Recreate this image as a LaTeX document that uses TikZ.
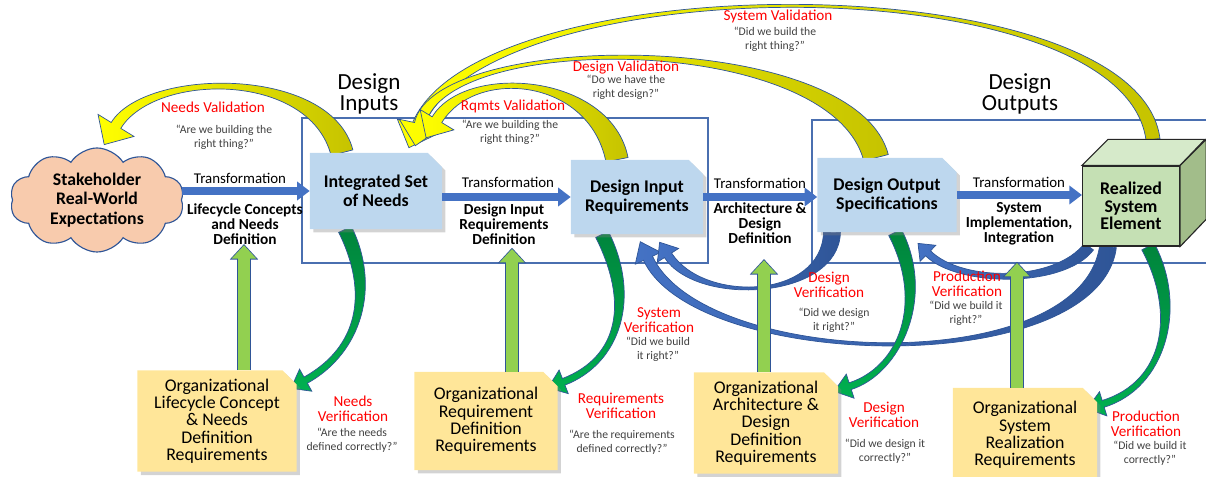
\documentclass[tikz,border=0pt]{standalone}
\usepackage{fontspec}
\setmainfont{Carlito}
\usetikzlibrary{calc,arrows.meta,shapes.misc,shapes.symbols,shadows}
\definecolor{peach}{HTML}{F8CBAD}
\definecolor{edgeblue}{HTML}{2F5597}
\definecolor{needblue}{HTML}{BDD7EE}
\definecolor{orgyellow}{HTML}{FFE699}
\definecolor{cubefront}{HTML}{C5E0B4}
\definecolor{cubetop}{HTML}{D6EACA}
\definecolor{cubeside}{HTML}{A2BD8A}
\definecolor{flowblue}{HTML}{4472C4}
\definecolor{deepblue}{HTML}{2F5597}
\definecolor{drivegreen}{HTML}{92D050}
\definecolor{verigreen}{HTML}{00B050}
\definecolor{darkgreen}{HTML}{00843C}
\definecolor{valyellow}{HTML}{FFFF00}
\definecolor{olive}{HTML}{C6C300}
\definecolor{quotegray}{HTML}{404040}
\definecolor{frameblue}{HTML}{4A6FB0}
\pgfdeclarelayer{back}
\pgfsetlayers{back,main}
\newcommand{\bendarrow}[9][]{%
\path[#1] ($(#2)!#6!90:(#3)$) .. controls ($(#3)!#6!-90:(#2)$) and ($(#4)!#7!90:(#5)$) .. ($(#5)!#7!-90:(#4)$)
 -- ($(#5)!#8!-90:(#4)$) -- ($(#5)!#9!180:(#4)$) -- ($(#5)!#8!90:(#4)$) -- ($(#5)!#7!90:(#4)$)
 .. controls ($(#4)!#7!-90:(#5)$) and ($(#3)!#6!90:(#2)$) .. ($(#2)!#6!-90:(#3)$) -- cycle;}
\tikzset{
  docbox/.style={chamfered rectangle, chamfered rectangle corners=north east, chamfered rectangle xsep=5pt,
    chamfered rectangle ysep=5pt, draw=none, drop shadow={opacity=0.35}, align=center, inner sep=1pt},
  needbox/.style={docbox, fill=needblue, font=\fontsize{12.7}{13.5}\selectfont\bfseries},
  orgbox/.style={docbox, fill=orgyellow, font=\fontsize{12.7}{12.3}\selectfont},
  cloudnode/.style={cloud, cloud puffs=10, cloud puff arc=115, aspect=1.7, fill=peach, draw=edgeblue,
    line width=0.8pt, inner sep=0pt, minimum width=4.35cm, minimum height=2.6cm, align=center,
    font=\fontsize{12.6}{14}\selectfont\bfseries},
  cubebox/.style={rectangle, fill=cubefront, draw=black!85, line width=0.8pt, minimum width=2.425cm,
    minimum height=2cm, align=center, font=\fontsize{12.7}{12.5}\selectfont\bfseries},
  headtext/.style={align=center, font=\fontsize{16.4}{15.4}\selectfont},
  transtext/.style={font=\fontsize{10.6}{11}\selectfont},
  deftext/.style={align=center, font=\fontsize{10.9}{10.5}\selectfont\bfseries},
  redtext/.style={align=center, inner sep=0pt, text=red, font=\fontsize{10.8}{11}\selectfont},
  quotetext/.style={align=center, inner sep=0pt, text=quotegray, font=\fontsize{8.3}{10}\selectfont},
  frame/.style={draw=frameblue, line width=0.8pt},
  trans/.style={line width=5.6pt, flowblue, -{Triangle[width=13pt,length=9pt]}},
  drivebase/.style={line width=9.4pt, edgeblue, -{Triangle[width=19.5pt,length=11pt]}},
  drivefill/.style={line width=8pt, drivegreen, shorten >=0.9pt, -{Triangle[width=17pt,length=9.5pt]}},
  drivetext/.style={rotate=-90, font=\fontsize{9.6}{10}\selectfont},
  yellowarrow/.style={left color=valyellow, middle color=valyellow, right color=olive, draw=edgeblue, line width=0.5pt},
  bluearrow/.style={left color=flowblue, right color=deepblue, draw=edgeblue, line width=0.5pt},
  greenarrow/.style={top color=darkgreen, bottom color=verigreen, draw=edgeblue, line width=0.5pt}
}
\begin{document}
\begin{tikzpicture}[x=0.025cm,y=-0.025cm]
\useasboundingbox (0,0) rectangle (1206,477);
\node[cloudnode] (stake) at (97,200) {Stakeholder\\Real-World\\Expectations};
\node[needbox, minimum width=3.3cm, minimum height=1.9cm] (ins) at (376,191) {Integrated Set\\of Needs};
\node[needbox, minimum width=3.3cm, minimum height=1.85cm] (dir) at (637,197) {Design Input\\Requirements};
\node[needbox, minimum width=3.475cm, minimum height=1.85cm] (dos) at (887,195) {Design Output\\Specifications};
\node[cubebox] (rse) at (1131,206) {Realized\\System\\Element};
\draw[fill=cubetop, draw=black!85, line width=0.8pt] (rse.north west) -- ++(26,-26) -- ++(97,0) -- (rse.north east) -- cycle;
\draw[fill=cubeside, draw=black!85, line width=0.8pt] (rse.north east) -- ++(26,-26) -- ++(0,80) -- (rse.south east) -- cycle;
\node[orgbox, minimum width=3.975cm, minimum height=2.45cm] (org1) at (217,421) {Organizational\\Lifecycle Concept\\\& Needs\\Definition\\Requirements};
\node[orgbox, minimum width=3.575cm, minimum height=2.45cm] (org2) at (486,421) {Organizational\\Requirement\\Definition\\Requirements};
\node[orgbox, minimum width=3.6cm, minimum height=2.425cm] (org3) at (766,423) {Organizational\\Architecture \&\\Design\\Definition\\Requirements};
\node[orgbox, minimum width=3.6cm, minimum height=2.35cm] (org4) at (1025,435) {Organizational\\System\\Realization\\Requirements};
\node[headtext] (dinp) at (369,94) {Design\\Inputs};
\node[headtext] (dout) at (1020,94) {Design\\Outputs};
\draw[trans] (stake.east |- ins.west) -- (ins.west);
\draw[trans] (ins.east |- dir.west) -- (dir.west);
\draw[trans] (dir.east) -- (dir.east -| dos.west);
\draw[trans] (dos.east) -- (dos.east -| rse.west);
\node[transtext] (tr1) at (240,178) {Transformation};
\node[transtext] (tr2) at (508,182) {Transformation};
\node[transtext] (tr3) at (760,183) {Transformation};
\node[transtext] (tr4) at (1019,182) {Transformation};
\node[deftext] (def1) at (245,224) {Lifecycle Concepts\\and Needs\\Definition};
\node[deftext] (def2) at (504,224) {Design Input\\Requirements\\Definition};
\node[deftext] (def3) at (760,223) {Architecture \&\\Design\\Definition};
\node[deftext] (def4) at (1019,224) {System\\Implementation,\\Integration};
\draw[drivebase] ($(org1.north)+(27,0)$) -- ++(0,-126);
\draw[drivefill] ($(org1.north)+(27,0)$) -- ++(0,-126) node[midway, drivetext] {Drive};
\draw[drivebase] ($(org2.north)+(26,0)$) -- ++(0,-124);
\draw[drivefill] ($(org2.north)+(26,0)$) -- ++(0,-124) node[midway, drivetext] {Drive};
\draw[drivebase] ($(org3.north)+(-2,0)$) -- ++(0,-113);
\draw[drivefill] ($(org3.north)+(-2,0)$) -- ++(0,-113) node[midway, drivetext] {Drive};
\draw[drivebase] ($(org4.north)+(-8,0)$) -- ++(0,-126);
\draw[drivefill] ($(org4.north)+(-8,0)$) -- ++(0,-126) node[pos=0.62, drivetext] {Drive};
\node[redtext] (nval) at (213,107) {Needs Validation};
\node[quotetext] (nvalq) at (224,137) {“Are we building the\\right thing?”};
\node[redtext] (rval) at (513,106) {Rqmts Validation};
\node[quotetext] (rvalq) at (510,132) {“Are we building the\\right thing?”};
\node[redtext] (dval) at (626,68) {Design Validation};
\node[quotetext] (dvalq) at (626,87) {“Do we have the\\right design?”};
\node[redtext] (sval) at (778,16) {System Validation};
\node[quotetext] (svalq) at (775,39) {“Did we build the\\right thing?”};
\node[redtext] (nver) at (353,409) {Needs\\Verification};
\node[quotetext] (nverq) at (352,440) {“Are the needs\\defined correctly?”};
\node[redtext] (rver) at (621,406) {Requirements\\Verification};
\node[quotetext] (rverq) at (622,442) {“Are the requirements\\defined correctly?”};
\node[redtext] (sver) at (659,320) {System\\Verification};
\node[quotetext] (sverq) at (658,349) {“Did we build\\it right?”};
\node[redtext] (dver) at (829,285) {Design\\Verification};
\node[quotetext] (dverq) at (834,320) {“Did we design\\it right?”};
\node[redtext] (pver) at (967,284) {Production\\Verification};
\node[quotetext] (pverq) at (966,313) {“Did we build it\\right?”};
\node[redtext] (dver2) at (884,415) {Design\\Verification};
\node[quotetext] (dverq2) at (885,451) {“Did we design it\\correctly?”};
\node[redtext] (pver2) at (1146,424) {Production\\Verification};
\node[quotetext] (pverq2) at (1150,453) {“Did we build it\\correctly?”};
\begin{pgfonlayer}{back}
\draw[frame] (302,118) rectangle (708,263);
\draw[frame] (812,120) rectangle (1230,263);
\coordinate (nvt) at ($(ins.north)+(-34,0)$);
\coordinate (nvh) at ($(stake.north)+(19,-22)$);
\coordinate (rvt) at ($(dir.north)+(-20,0)$);
\coordinate (rvh) at ($(ins.north)+(61,-33)$);
\coordinate (dvt) at ($(dos.north)+(-11,0)$);
\coordinate (dvh) at ($(ins.north)+(44,-29)$);
\coordinate (svt) at ($(rse.north)+(22,-26)$);
\coordinate (svh) at ($(ins.north)+(41,-26)$);
\bendarrow[yellowarrow]{svt}{1130,-37}{480,-36}{svh}{5pt}{4pt}{15pt}{16pt}
\bendarrow[yellowarrow]{dvt}{843,30}{440,30}{dvh}{9pt}{4pt}{15pt}{16pt}
\bendarrow[yellowarrow]{rvt}{600,75}{470,65}{rvh}{8pt}{4pt}{14pt}{15pt}
\bendarrow[yellowarrow]{nvt}{320,68}{150,70}{nvh}{8pt}{4pt}{15pt}{16pt}
\coordinate (sbt) at ($(rse.south)+(-23,0)$);
\coordinate (sbh) at ($(dir.south)+(11,24)$);
\coordinate (dbt) at ($(dos.south)+(-55,0)$);
\coordinate (dbh) at ($(dir.south)+(31,21)$);
\coordinate (pbt) at ($(rse.south)+(-42,0)$);
\coordinate (pbh) at ($(dos.south)+(41,21)$);
\bendarrow[bluearrow]{sbt}{1090,380}{700,370}{sbh}{6pt}{3.5pt}{10pt}{13pt}
\bendarrow[bluearrow]{dbt}{830,300}{700,305}{dbh}{6pt}{3pt}{9pt}{11pt}
\bendarrow[bluearrow]{pbt}{1060,285}{960,285}{pbh}{4pt}{2.5pt}{8pt}{10pt}
\coordinate (ngt) at ($(ins.south)+(-31,0)$);
\coordinate (ngh) at ($(org1.north east)+(16,3)$);
\coordinate (rgt) at ($(dir.south)+(-35,0)$);
\coordinate (rgh) at ($(org2.north east)+(13,3)$);
\coordinate (dgt) at ($(dos.south)+(8,0)$);
\coordinate (dgh) at ($(org3.north east)+(19,7)$);
\coordinate (pgt) at ($(rse.south)+(17,0)$);
\coordinate (pgh) at ($(org4.north east)+(13,9)$);
\bendarrow[greenarrow]{ngt}{375,290}{360,350}{ngh}{5pt}{2.5pt}{9pt}{12pt}
\bendarrow[greenarrow]{rgt}{635,300}{620,360}{rgh}{5pt}{2.5pt}{9pt}{12pt}
\bendarrow[greenarrow]{dgt}{930,300}{900,370}{dgh}{5pt}{2.5pt}{9pt}{12pt}
\bendarrow[greenarrow]{pgt}{1182,310}{1165,385}{pgh}{5pt}{2.5pt}{9pt}{12pt}
\end{pgfonlayer}
\end{tikzpicture}
\end{document}
